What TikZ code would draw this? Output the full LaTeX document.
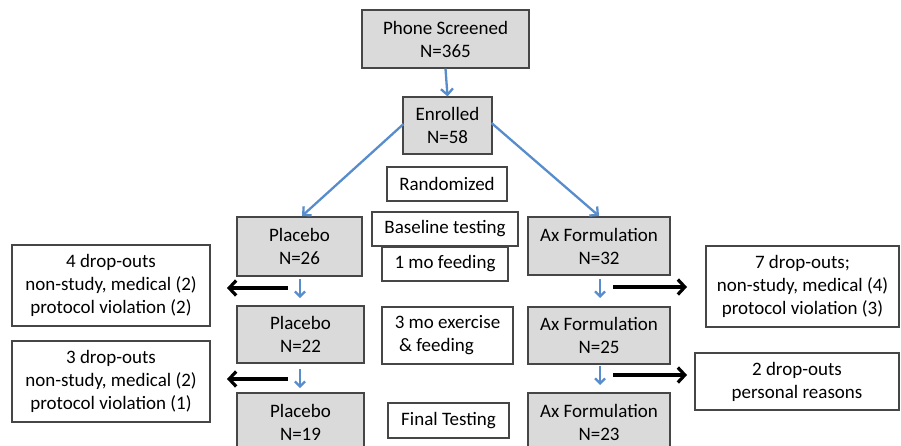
\documentclass[tikz,border=0pt]{standalone}
\usepackage{fontspec}
\setmainfont{Carlito}
\usetikzlibrary{arrows.meta}
\definecolor{bblue}{RGB}{88,141,205}
\definecolor{gfill}{RGB}{218,218,218}
\definecolor{bord}{RGB}{70,70,70}
\tikzset{
  gbox/.style={draw=bord, fill=gfill, line width=1.2pt, align=center, inner sep=0pt},
  wbox/.style={draw=bord, fill=white, line width=1.2pt, align=center, inner sep=0pt},
  bline/.style={draw=bblue, line width=2.3pt, -{Straight Barb[length=6pt,width=12pt,line width=2.3pt]}},
  bsmall/.style={draw=bblue, line width=2.3pt, -{Straight Barb[length=5pt,width=10pt,line width=2.3pt]}},
  karrow/.style={draw=black, line width=3.2pt, -{Straight Barb[length=7pt,width=15pt,line width=3.2pt]}},
}
\begin{document}
\begin{tikzpicture}[x=1pt,y=-1pt,font=\fontsize{19}{23}\selectfont]
\clip (0,0) rectangle (901,445);
\fill[white] (0,0) rectangle (901,445);
% main column boxes
\node[gbox, minimum width=167pt, minimum height=58pt] (phone) at (445.5,39) {Phone Screened\\N=365};
\node[gbox, minimum width=89pt, minimum height=57pt] (enr) at (447.5,125.5) {Enrolled\\N=58};
\node[wbox, minimum width=120pt, minimum height=34pt] (rand) at (447,184) {Randomized};
\node[wbox, minimum width=126pt, minimum height=34pt] (feed) at (445,264) {1 mo feeding};
\node[wbox, minimum width=146pt, minimum height=34pt] (base) at (445,229) {Baseline testing};
\node[wbox, minimum width=131pt, minimum height=57pt] (ex) at (447.5,335.5) {\begin{tabular}{@{}l@{}}3 mo exercise\\\ \& feeding\end{tabular}};
\node[wbox, minimum width=121pt, minimum height=35pt] (final) at (448.5,420.5) {Final Testing};
% placebo
\node[gbox, minimum width=125pt, minimum height=59pt] (p26) at (299.5,246.5) {Placebo\\N=26};
\node[gbox, minimum width=127pt, minimum height=57pt] (p22) at (300.5,334.5) {Placebo\\N=22};
\node[gbox, minimum width=127pt, minimum height=59pt] (p19) at (300.5,422.5) {Placebo\\N=19};
% ax
\node[gbox, minimum width=142pt, minimum height=58pt] (a32) at (599,246) {Ax Formulation\\N=32};
\node[gbox, minimum width=142pt, minimum height=57pt] (a25) at (599,335.5) {Ax Formulation\\N=25};
\node[gbox, minimum width=142pt, minimum height=59pt] (a23) at (599,422.5) {Ax Formulation\\N=23};
% drop-outs
\node[wbox, minimum width=198pt, minimum height=81pt] (dl1) at (111,285.5) {4 drop-outs\\non-study, medical (2)\\protocol violation (2)};
\node[wbox, minimum width=198pt, minimum height=81pt] (dl2) at (111,381.5) {3 drop-outs\\non-study, medical (2)\\protocol violation (1)};
\node[wbox, minimum width=193pt, minimum height=81pt] (dr1) at (802.5,286.5) {7 drop-outs;\\non-study, medical (4)\\protocol violation (3)};
\node[wbox, minimum width=204pt, minimum height=57pt] (dr2) at (797,381.5) {2 drop-outs\\personal reasons};
% connectors
\draw[bline] (phone.south) -- (enr.north);
\coordinate (eL) at (403.5,124);
\coordinate (eR) at (491.5,123);
\coordinate (pT) at (302,216);
\coordinate (aT) at (599,216);
\draw[bline] (eL) -- (pT);
\draw[bline] (eR) -- (aT);
% small blue arrows
\coordinate (pb1s) at (300,279); \coordinate (pb1e) at (300,298);
\coordinate (pb2s) at (300,369); \coordinate (pb2e) at (300,388);
\coordinate (ab1s) at (600,279); \coordinate (ab1e) at (600,298);
\coordinate (ab2s) at (600,366); \coordinate (ab2e) at (600,385);
\draw[bsmall] (pb1s) -- (pb1e);
\draw[bsmall] (pb2s) -- (pb2e);
\draw[bsmall] (ab1s) -- (ab1e);
\draw[bsmall] (ab2s) -- (ab2e);
% black arrows
\coordinate (kl1s) at (288,288); \coordinate (kl1e) at (227,288);
\coordinate (kl2s) at (288,379); \coordinate (kl2e) at (227,379);
\coordinate (kr1s) at (613,287); \coordinate (kr1e) at (687,287);
\coordinate (kr2s) at (613,375); \coordinate (kr2e) at (687,375);
\draw[karrow] (kl1s) -- (kl1e);
\draw[karrow] (kl2s) -- (kl2e);
\draw[karrow] (kr1s) -- (kr1e);
\draw[karrow] (kr2s) -- (kr2e);
\end{tikzpicture}
\end{document}
